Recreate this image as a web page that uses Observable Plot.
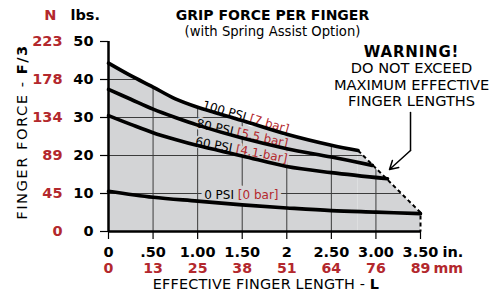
<!DOCTYPE html>
<html><head><meta charset="utf-8">
<script src="https://cdn.jsdelivr.net/npm/d3@7"></script>
<script src="https://cdn.jsdelivr.net/npm/@observablehq/plot@0.6"></script>
<style>html,body{margin:0;padding:0;background:#fff;} #chart svg{display:block}</style>
</head><body><div id="chart"></div>
<script>
const RED = "#b3282d", GRAY = "#d3d4d6", GRID = "#3c3c3c";

// axes
const lengthTicks = [0, 0.5, 1, 1.5, 2, 2.5, 3, 3.5];
const lengthLabelsIn = ["0", ".50", "1.00", "1.50", "2", "2.50", "3.00", "3.50"];
const lengthLabelsMm = ["0", "13", "25", "38", "51", "64", "76", "89"];
const forceTicks = [0, 10, 20, 30, 40, 50];
const forceLabelsLbs = ["0", "10", "20", "30", "40", "50"];
const forceLabelsN = ["0", "45", "89", "134", "178", "223"];
const gridLengths = [0.5, 1, 1.5, 2, 2.5, 3];
const gridForces = [10, 20, 30, 40];

// series (finger length in inches, force in lbs)
const len100 = [0, 0.25, 0.5, 0.75, 1.0, 1.5, 2.0, 2.5, 2.8];
const force100 = [44.3, 41.0, 38.0, 34.9, 32.7, 29.2, 25.6, 22.7, 21.3];
const len80 = [0, 0.25, 0.5, 0.75, 1.0, 1.5, 2.0, 2.5, 2.96];
const force80 = [37.4, 34.8, 32.2, 30.0, 28.0, 24.6, 21.8, 19.6, 17.4];
const len60 = [0, 0.25, 0.5, 0.75, 1.0, 1.5, 2.0, 2.5, 3.13];
const force60 = [30.5, 28.2, 26.0, 24.2, 22.6, 19.9, 17.1, 15.5, 13.9];
const len0 = [0, 0.5, 1.0, 1.5, 2.0, 2.5, 3.0, 3.5];
const force0 = [10.6, 9.0, 8.0, 7.0, 6.2, 5.5, 5.1, 4.7];

// maximum effective finger length limit (dashed)
const limitLen = [2.8, 3.5, 3.5];
const limitForce = [21.3, 5.0, 0];

// curve labels
const curveLabels = ["100 PSI [7 bar]", "80 PSI [5.5 bar]", "60 PSI [4.1 bar]", "0 PSI [0 bar]"];
const labelLen = [1.54, 1.50, 1.49, 1.49];
const labelForce = [30.1, 25.8, 21.4, 9.5];
const labelAngle = [16, 12.6, 10.8, 0];

// warning annotation
const warningTitle = "WARNING!";
const warningLines = ["DO NOT EXCEED", "MAXIMUM EFFECTIVE", "FINGER LENGTHS"];
const arrowLen = [3.388, 3.388, 3.152];
const arrowForce = [31.3, 21.3, 16.3];

const pts = (xs, ys) => xs.map((x, i) => ({x, y: ys[i]}));
const c100 = pts(len100, force100), c80 = pts(len80, force80), c60 = pts(len60, force60), c0 = pts(len0, force0);
const limitAll = pts(limitLen, limitForce);
const limitEdge = limitAll.slice(0, 2);
const yMax = d3.max(forceTicks), xMax = d3.max(lengthTicks);
const labels = curveLabels.map((t, i) => ({t, x: labelLen[i], y: labelForce[i], r: labelAngle[i]}));
const stem = pts(arrowLen.slice(0, 2), arrowForce.slice(0, 2));
const head = [{x1: arrowLen[1], y1: arrowForce[1], x2: arrowLen[2], y2: arrowForce[2]}];

const T = (extra) => Object.assign({textAnchor: "middle", lineAnchor: "middle", fill: "black"}, extra);

const chart = Plot.plot({
  width: 492, height: 294,
  marginLeft: 108, marginRight: 72, marginTop: 41, marginBottom: 63,
  x: {domain: [0, xMax], axis: null},
  y: {domain: [0, yMax], axis: null},
  style: {fontFamily: "DejaVu Sans", fontSize: "12px", background: "white", color: "black"},
  marks: [
    Plot.areaY(c100, {x: "x", y: "y", fill: GRAY, curve: "catmull-rom"}),
    Plot.areaY(limitEdge, {x: "x", y: "y", fill: GRAY}),
    Plot.ruleX(gridLengths, {y1: 0, y2: yMax, stroke: GRID, strokeWidth: 1}),
    Plot.ruleY(gridForces, {x1: 0, x2: xMax, stroke: GRID, strokeWidth: 1}),
    Plot.areaY(c100, {x: "x", y1: "y", y2: yMax, fill: "white", stroke: "white", strokeWidth: 1, curve: "catmull-rom"}),
    Plot.areaY(limitEdge, {x: "x", y1: "y", y2: yMax, fill: "white", stroke: "white", strokeWidth: 1}),
    Plot.text(labels.slice(0, 1), T({x: "x", y: "y", text: "t", rotate: "r", fontSize: 12,
      stroke: "white", strokeWidth: 4, paintOrder: "stroke", strokeLinejoin: "round"})),
    Plot.text(labels.slice(1, 3), T({x: "x", y: "y", text: "t", rotate: "r", fontSize: 12,
      stroke: GRAY, strokeWidth: 4, paintOrder: "stroke", strokeLinejoin: "round"})),
    Plot.text(labels.slice(3), T({x: "x", y: "y", text: "t", rotate: "r", fontSize: 12,
      stroke: GRAY, strokeWidth: 7, paintOrder: "stroke", strokeLinejoin: "round"})),
    ...[c100, c80, c60, c0].map(d => Plot.line(d, {x: "x", y: "y", stroke: "black", strokeWidth: 3.6, curve: "catmull-rom"})),
    Plot.line(limitAll, {x: "x", y: "y", stroke: "black", strokeWidth: 2, strokeDasharray: "4,3", strokeLinecap: "butt"}),
    Plot.ruleX([0], {y1: 0, y2: yMax, stroke: "black", strokeWidth: 2.5}),
    Plot.ruleY([0], {x1: 0, x2: xMax, stroke: "black", strokeWidth: 2.5}),
    Plot.axisY({ticks: forceTicks, tickSize: 8, tickFormat: () => "", stroke: "black", strokeWidth: 1.2}),
    Plot.axisX({ticks: lengthTicks, tickSize: 8, tickFormat: () => "", stroke: "black", strokeWidth: 1.2}),
    Plot.text(forceTicks, T({y: d => d, frameAnchor: "left", dx: -15, textAnchor: "end", text: (d, i) => forceLabelsLbs[i], fontWeight: "bold", fontSize: 14.5})),
    Plot.text(forceTicks, T({y: d => d, frameAnchor: "left", dx: -46, textAnchor: "end", text: (d, i) => forceLabelsN[i], fontWeight: "bold", fontSize: 14.5, fill: RED})),
    Plot.text(lengthTicks, T({x: d => d, frameAnchor: "bottom", dy: 21, text: (d, i) => lengthLabelsIn[i], fontWeight: "bold", fontSize: 14.5})),
    Plot.text(lengthTicks, T({x: d => d, frameAnchor: "bottom", dy: 36.5, text: (d, i) => lengthLabelsMm[i], fontWeight: "bold", fontSize: 14.2, fill: RED})),
    Plot.text([xMax], T({x: d => d, frameAnchor: "bottom", dy: 21, dx: 22, textAnchor: "start", text: ["in."], fontWeight: "bold", fontSize: 14.5})),
    Plot.text([xMax], T({x: d => d, frameAnchor: "bottom", dy: 36.5, dx: 13, textAnchor: "start", text: ["mm"], fontWeight: "bold", fontSize: 14.2, fill: RED})),
    Plot.text(["N"], T({frameAnchor: "top-left", dx: -52, dy: -26, textAnchor: "end", fontWeight: "bold", fontSize: 14.5, fill: RED})),
    Plot.text(["lbs."], T({frameAnchor: "top-left", dx: -38, dy: -26, textAnchor: "start", fontWeight: "bold", fontSize: 14.5})),
    Plot.text(["GRIP FORCE PER FINGER"], T({frameAnchor: "top", dx: 8, dy: -26, fontWeight: "bold", fontSize: 14})),
    Plot.text(["(with Spring Assist Option)"], T({frameAnchor: "top", dx: 8, dy: -10, fontSize: 13.2})),
    Plot.text([warningTitle], T({frameAnchor: "top-right", dx: -9, dy: 11, fontWeight: "bold", fontSize: 15})),
    ...warningLines.map((line, i) => Plot.text([line], T({frameAnchor: "top-right", dx: -9, dy: 27.3 + i * 16.2, fontSize: 14.6}))),
    Plot.line(stem, {x: "x", y: "y", stroke: "black", strokeWidth: 1.5}),
    Plot.arrow(head, {x1: "x1", y1: "y1", x2: "x2", y2: "y2", stroke: "black", strokeWidth: 1.5, headLength: 10}),
    Plot.text(["FINGER FORCE - F/3"], T({frameAnchor: "left", dx: -86, dy: -4.5, rotate: -90, fontSize: 14.7})),
    Plot.text(["EFFECTIVE FINGER LENGTH - L"], T({frameAnchor: "bottom", dx: 1.5, dy: 52.5, fontSize: 14.4}))
  ]
});

// mixed styling inside single text elements
function splitTail(match, marker, attrs) {
  chart.querySelectorAll("text").forEach(t => {
    const s = t.textContent;
    if (!match(s)) return;
    const i = s.lastIndexOf(marker);
    if (i < 0) return;
    t.textContent = s.slice(0, i);
    const ts = document.createElementNS("http://www.w3.org/2000/svg", "tspan");
    for (const [k, v] of Object.entries(attrs)) ts.setAttribute(k, v);
    ts.textContent = s.slice(i);
    t.appendChild(ts);
  });
}
chart.querySelectorAll("text").forEach(t => {
  if (t.textContent === "FINGER FORCE - F/3") t.setAttribute("letter-spacing", "1.5");
  if (t.textContent === warningTitle) t.setAttribute("letter-spacing", "0.8");
  if (t.textContent === "EFFECTIVE FINGER LENGTH - L") t.setAttribute("letter-spacing", "0.2");
});
splitTail(s => curveLabels.includes(s), "[", {fill: RED});
splitTail(s => s === "FINGER FORCE - F/3", "F/3", {"font-weight": "bold"});
splitTail(s => s === "EFFECTIVE FINGER LENGTH - L", "L", {"font-weight": "bold"});
document.getElementById("chart").appendChild(chart);
</script></body></html>
